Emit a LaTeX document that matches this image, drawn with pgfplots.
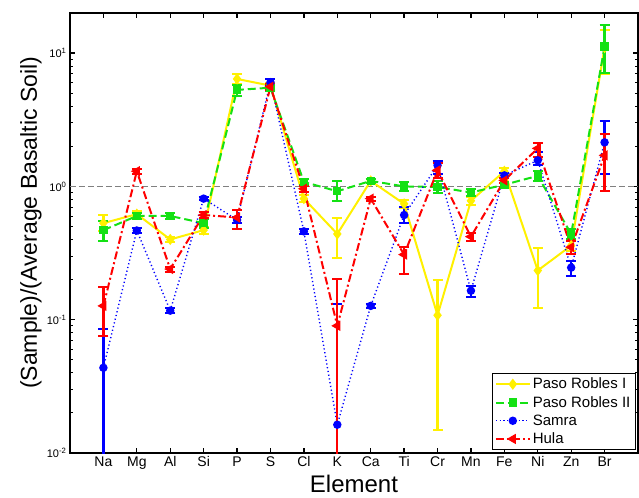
\documentclass[border=0pt]{standalone}
\usepackage{fontspec}
\setmainfont{Liberation Sans}
\usepackage{pgfplots}
\usepackage{pgfplotstable}
\pgfplotsset{compat=1.18}

\definecolor{pyel}{RGB}{255,240,0}
\definecolor{pgrn}{RGB}{20,225,20}
\definecolor{pblu}{RGB}{0,0,255}
\definecolor{pred}{RGB}{255,0,0}

% x: 1=Na ... 16=Br ; y, error plus, error minus
\pgfplotstableread{
x y ep em
1 0.53 0.08 0.07
2 0.62 0.03 0.03
3 0.40 0.02 0.02
4 0.47 0.03 0.03
5 6.4 0.6 0.5
6 5.7 0.3 0.3
7 0.81 0.05 0.05
8 0.44 0.14 0.15
9 1.10 0.03 0.03
10 0.74 0.05 0.05
11 0.108 0.09 0.093
12 0.78 0.05 0.05
13 1.30 0.08 0.08
14 0.234 0.114 0.111
15 0.36 0.03 0.03
16 11.0 4.0 4.0
}\pasoI

\pgfplotstableread{
x y ep em
1 0.47 0.08 0.08
2 0.60 0.03 0.03
3 0.60 0.03 0.03
4 0.53 0.04 0.04
5 5.3 0.5 0.5
6 5.5 0.3 0.3
7 1.08 0.05 0.05
8 0.92 0.18 0.14
9 1.10 0.03 0.03
10 1.00 0.08 0.08
11 0.99 0.10 0.10
12 0.90 0.05 0.05
13 1.03 0.04 0.04
14 1.20 0.10 0.10
15 0.44 0.04 0.04
16 11.2 5.0 4.1
}\pasoII

\pgfplotstableread{
x y ep em
1 0.0436 0.042 0.0386
2 0.467 0.02 0.02
3 0.117 0.005 0.005
4 0.81 0.02 0.02
5 0.56 0.03 0.03
6 6.05 0.3 0.3
7 0.46 0.02 0.02
8 0.0163 0.115 0.0113
9 0.127 0.005 0.005
10 0.61 0.09 0.08
11 1.44 0.10 0.20
12 0.165 0.015 0.016
13 1.21 0.05 0.05
14 1.57 0.23 0.13
15 0.246 0.032 0.032
16 2.14 0.94 0.89
}\samra

\pgfplotstableread{
x y ep em
1 0.127 0.05 0.051
2 1.30 0.05 0.05
3 0.24 0.01 0.01
4 0.61 0.03 0.03
5 0.585 0.075 0.105
6 5.6 0.3 0.3
7 0.96 0.05 0.05
8 0.090 0.113 0.085
9 0.81 0.03 0.03
10 0.308 0.046 0.086
11 1.32 0.17 0.17
12 0.42 0.03 0.03
13 1.11 0.05 0.05
14 1.93 0.17 0.28
15 0.35 0.04 0.04
16 1.71 0.75 0.78
}\hula

\pgfplotsset{
  errs/.style={
    error bars/.cd,
      y dir=both, y explicit,
      error mark=-,
      error bar style={line width=2.2pt, solid, #1},
      error mark options={rotate=90, line width=2pt, mark size=5pt, solid, #1},
  },
}

\begin{document}
\begin{tikzpicture}
\begin{semilogyaxis}[
  name=ax,
  scale only axis,
  width=568pt, height=440pt,
  xmin=0, xmax=17,
  ymin=0.01, ymax=20,
  xtick={1,...,16},
  xticklabels={Na,Mg,Al,Si,P,S,Cl,K,Ca,Ti,Cr,Mn,Fe,Ni,Zn,Br},
  ytick={0.01,0.1,1,10},
  yticklabels={10\textsuperscript{-2},10\textsuperscript{-1},10\textsuperscript{0},10\textsuperscript{1}},
  minor ytick={0.02,0.03,0.04,0.05,0.06,0.07,0.08,0.09,0.2,0.3,0.4,0.5,0.6,0.7,0.8,0.9,2,3,4,5,6,7,8,9,20},
  axis line style={line width=1.5pt},
  major tick style={line width=1.3pt, black},
  minor tick style={line width=0.8pt, black},
  major tick length=5pt,
  minor tick length=3pt,
  x tick label style={font=\fontsize{14}{16}\selectfont},
  y tick label style={font=\fontsize{11}{13}\selectfont},
  xlabel={Element},
  ylabel={(Sample)/(Average Basaltic Soil)},
  xlabel style={font=\fontsize{24}{28}\selectfont, at={(axis description cs:0.5,-0.07)}, anchor=center},
  ylabel style={font=\fontsize{23}{27}\selectfont, at={(axis description cs:-0.0687,0.523)}, anchor=center},
  legend style={at={(0.995,0.007)}, anchor=south east, draw=black, line width=0.6pt,
    font=\fontsize{15}{18}\selectfont, row sep=2pt, inner sep=2.5pt},
  legend cell align=left,
  legend image code/.code={\draw[mark repeat=2,mark phase=2] plot coordinates {(0pt,0pt) (17pt,0pt) (34pt,0pt)};},
]
\addplot[gray, line width=1pt, dash pattern=on 6pt off 3pt, forget plot] coordinates {(0,1) (17,1)};

\addplot[pyel, line width=2pt, mark=diamond*, mark size=4pt, mark options={solid}, errs=pyel]
  table[x=x, y=y, y error plus=ep, y error minus=em] {\pasoI};
\addlegendentry{Paso Robles I}

\addplot[pgrn, line width=2pt, dash pattern=on 8pt off 4pt, mark=square*, mark size=3.2pt, mark options={solid}, errs=pgrn]
  table[x=x, y=y, y error plus=ep, y error minus=em] {\pasoII};
\addlegendentry{Paso Robles II}

\addplot[pblu, line width=1.4pt, dash pattern=on 1.2pt off 2.6pt, mark=*, mark size=3.5pt, mark options={solid}, errs=pblu]
  table[x=x, y=y, y error plus=ep, y error minus=em] {\samra};
\addlegendentry{Samra}

\addplot[pred, line width=2pt, dash pattern=on 8pt off 3pt on 2pt off 3pt, mark=triangle*, mark size=4pt, mark options={solid, rotate=90}, errs=pred]
  table[x=x, y=y, y error plus=ep, y error minus=em] {\hula};
\addlegendentry{Hula}
\end{semilogyaxis}
\path ([xshift=-70pt,yshift=13pt]ax.north west) rectangle ([xshift=1pt,yshift=-44pt]ax.south east);
\end{tikzpicture}
\end{document}
